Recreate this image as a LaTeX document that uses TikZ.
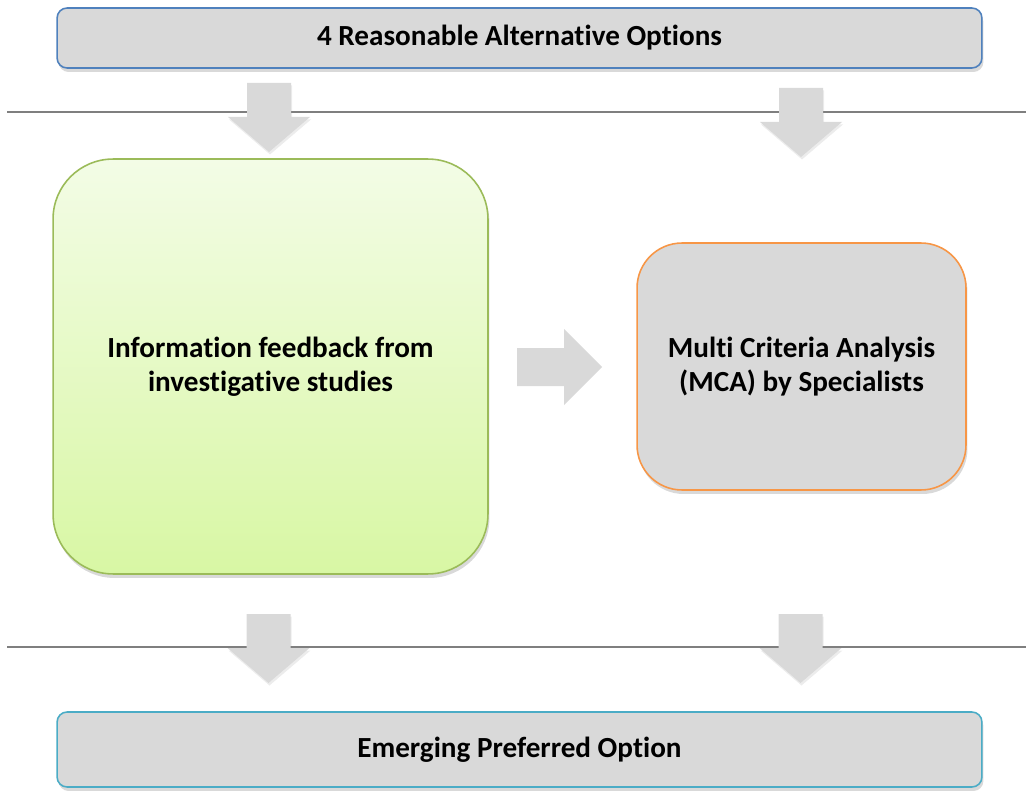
\documentclass[tikz,border=0pt]{standalone}
\usepackage{fontspec}
\setmainfont{Carlito}[Ligatures=NoCommon]
\usetikzlibrary{shadows}
\definecolor{boxgray}{HTML}{D9D9D9}
\definecolor{arrowgray}{HTML}{D9D9D9}
\definecolor{rulegray}{HTML}{7F7F7F}
\definecolor{topblue}{HTML}{4F81BD}
\definecolor{endteal}{HTML}{4BACC6}
\definecolor{infoedge}{HTML}{9BBB59}
\definecolor{infotop}{HTML}{F3FCE6}
\definecolor{infobot}{HTML}{D8F7A4}
\definecolor{mcaedge}{HTML}{F79646}

\begin{document}
\begin{tikzpicture}[x=0.02cm, y=-0.02cm,
        shade/.style={drop shadow={shadow xshift=0.03cm, shadow yshift=-0.08cm, opacity=0.3}},
        bar/.style={draw, fill=boxgray, rounded corners=0.2cm, line width=0.9pt, shade,
            font=\fontsize{16.6}{19.3}\selectfont\bfseries},
        block/.style={draw, line width=0.9pt, shade, align=center,
            font=\fontsize{16.6}{19.3}\selectfont\bfseries},
        sep/.style={draw=rulegray, line width=0.05cm},
        pics/downblk/.style={code={
            \fill[arrowgray, drop shadow={shadow xshift=0.02cm, shadow yshift=-0.05cm, opacity=0.15}]
                (-22,0) -- (22,0) -- (22,34) -- (41,34) -- (0,69) -- (-41,34) -- (-22,34) -- cycle;}},
        pics/rightblk/.style={code={
            \fill[arrowgray] (0,-19) -- (47,-19) -- (47,-38) -- (85,0) -- (47,38) -- (47,19) -- (0,19) -- cycle;}}
    ]
        \useasboundingbox (0,0) rectangle (1026,790);

        \coordinate (sepAw) at (7,112);   \coordinate (sepAe) at (1026,112);
        \coordinate (sepBw) at (7,647);   \coordinate (sepBe) at (1026,647);
        \path [sep] (sepAw) -- (sepAe);
        \path [sep] (sepBw) -- (sepBe);

        \node (options) [bar, draw=topblue, minimum width=18.5cm, minimum height=1.2cm] at (519.5,38)
            {\raisebox{0.06cm}{4 Reasonable Alternative Options}};
        \node (info) [block, draw=infoedge, top color=infotop, bottom color=infobot,
            rounded corners=1.2cm, minimum width=8.7cm, minimum height=8.3cm] at (270.5,366.5)
            {Information feedback from\\investigative studies};
        \node (mca) [block, draw=mcaedge, fill=boxgray, rounded corners=0.9cm,
            minimum width=6.58cm, minimum height=4.94cm] at (801.5,366.5)
            {Multi Criteria Analysis\\(MCA) by Specialists};
        \node (emerging) [bar, draw=endteal, minimum width=18.5cm, minimum height=1.5cm] at (519.5,749.5)
            {Emerging Preferred Option};

        % block arrows
        \pic (inA) at (269,83) {downblk};
        \pic (inB) at (801,88) {downblk};
        \pic (toMca) at (517,367) {rightblk};
        \pic (outA) at (268.5,614) {downblk};
        \pic (outB) at (800.5,614) {downblk};
    \end{tikzpicture}
\end{document}
